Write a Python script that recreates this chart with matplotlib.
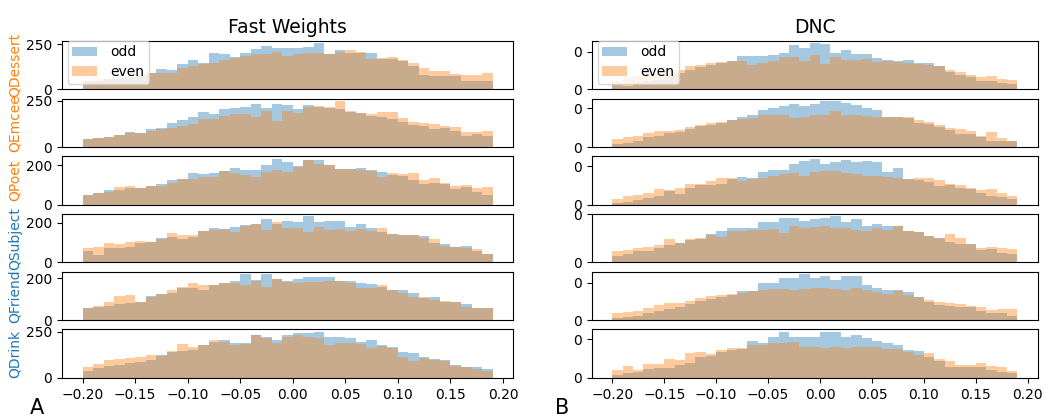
import numpy as np
import matplotlib
matplotlib.use('Agg')
import matplotlib.pyplot as plt

# histogram bins: 39 bins of width 0.01 from -0.20 to 0.19
bin_edges = np.round(np.arange(40) * 0.01 - 0.2, 2)

questions = ['QDessert', 'QEmcee', 'QPoet', 'QSubject', 'QFriend', 'QDrink']
question_colors = ['tab:orange', 'tab:orange', 'tab:orange', 'tab:blue', 'tab:blue', 'tab:blue']
fw_top_ticks = [250, 250, 200, 200, 200, 250]
dnc_top_ticks = [250, 250, 250, 250, 250, 250]

# Fast Weights, counts per bin
fw_dessert_odd = [45, 48, 55, 60, 62, 72, 88, 114, 106, 138, 160, 147, 200, 194, 179, 200, 222, 241, 231, 228,
                  231, 235, 256, 198, 216, 203, 200, 203, 166, 166, 157, 129, 78, 73, 73, 73, 45, 48, 45]
fw_dessert_even = [48, 55, 58, 62, 70, 80, 88, 88, 88, 119, 129, 138, 147, 160, 175, 185, 194, 194, 209, 185,
                   194, 203, 203, 194, 209, 216, 207, 166, 175, 179, 160, 147, 119, 104, 104, 86, 78, 78, 91]
fw_emcee_odd = [42, 51, 54, 63, 83, 74, 96, 101, 129, 145, 165, 192, 178, 205, 210, 217, 232, 214, 232, 226,
                205, 226, 217, 210, 205, 190, 187, 168, 160, 150, 138, 120, 114, 96, 105, 87, 60, 69, 60]
fw_emcee_even = [42, 51, 54, 63, 78, 74, 87, 96, 105, 114, 127, 150, 150, 168, 178, 181, 163, 196, 141, 196,
                 187, 217, 221, 217, 250, 196, 187, 178, 190, 190, 156, 138, 132, 127, 114, 109, 83, 81, 87]
fw_poet_odd = [50, 60, 75, 75, 85, 84, 97, 106, 126, 132, 159, 157, 161, 169, 186, 174, 178, 203, 234, 217,
               195, 229, 226, 200, 183, 183, 188, 174, 166, 149, 144, 123, 103, 109, 106, 80, 92, 63, 51]
fw_poet_even = [50, 60, 63, 89, 94, 84, 97, 97, 109, 132, 132, 140, 140, 169, 161, 149, 140, 166, 174, 166,
                191, 226, 205, 200, 183, 183, 174, 171, 140, 161, 157, 161, 126, 137, 111, 97, 101, 85, 89]
fw_subject_odd = [56, 38, 72, 72, 80, 97, 103, 125, 128, 120, 128, 159, 174, 171, 179, 188, 193, 219, 193, 209,
                  205, 234, 205, 209, 209, 179, 197, 176, 154, 142, 140, 137, 132, 97, 91, 77, 85, 56, 43]
fw_subject_even = [74, 80, 99, 94, 106, 111, 106, 120, 149, 140, 137, 159, 166, 171, 154, 183, 197, 166, 205, 176,
                   176, 154, 179, 162, 171, 159, 171, 157, 176, 145, 137, 137, 125, 118, 85, 77, 74, 68, 43]
fw_friend_odd = [59, 61, 67, 75, 83, 85, 117, 123, 131, 152, 152, 144, 168, 179, 189, 221, 192, 221, 195, 189,
                 197, 208, 208, 205, 187, 187, 176, 173, 160, 144, 144, 128, 104, 112, 88, 85, 77, 56, 59]
fw_friend_even = [59, 67, 88, 117, 120, 85, 112, 123, 144, 157, 176, 168, 168, 179, 176, 168, 189, 160, 195, 184,
                  176, 184, 184, 187, 187, 176, 152, 155, 168, 144, 131, 112, 109, 96, 91, 85, 64, 56, 59]
fw_drink_odd = [36, 54, 63, 71, 80, 86, 98, 121, 138, 143, 152, 179, 196, 205, 188, 191, 232, 223, 205, 232,
                245, 241, 250, 223, 223, 214, 196, 205, 175, 166, 138, 134, 112, 102, 95, 68, 59, 57, 50]
fw_drink_even = [57, 75, 95, 102, 107, 112, 125, 119, 143, 184, 166, 175, 202, 196, 179, 184, 232, 214, 188, 223,
                 232, 223, 214, 179, 191, 188, 184, 161, 170, 161, 113, 89, 107, 95, 89, 63, 59, 48, 36]

# DNC, counts per bin
dnc_dessert_odd = [26, 20, 42, 53, 64, 96, 107, 129, 147, 158, 173, 184, 217, 217, 221, 224, 239, 294, 272, 305,
                   298, 243, 261, 232, 232, 206, 195, 189, 195, 173, 173, 156, 114, 96, 79, 53, 53, 42, 35]
dnc_dessert_even = [53, 79, 86, 92, 101, 118, 129, 151, 162, 173, 180, 189, 184, 162, 173, 189, 211, 211, 189, 224,
                    169, 211, 195, 195, 202, 178, 184, 178, 173, 167, 162, 151, 125, 112, 92, 79, 86, 70, 64]
dnc_emcee_odd = [22, 29, 40, 62, 74, 89, 96, 118, 134, 141, 156, 174, 196, 208, 241, 252, 263, 275, 263, 275,
                 297, 297, 281, 268, 252, 241, 196, 192, 185, 156, 147, 129, 112, 85, 85, 62, 40, 40, 36]
dnc_emcee_even = [51, 62, 74, 92, 100, 100, 107, 129, 141, 156, 163, 174, 179, 185, 208, 208, 208, 185, 196, 208,
                  208, 230, 208, 208, 201, 196, 196, 192, 192, 174, 163, 141, 125, 118, 100, 74, 96, 58, 40]
dnc_poet_odd = [11, 18, 33, 44, 55, 88, 71, 111, 126, 128, 137, 166, 181, 173, 210, 226, 226, 261, 283, 299,
                261, 277, 288, 277, 283, 277, 210, 239, 166, 159, 144, 122, 126, 106, 100, 77, 55, 49, 40]
dnc_poet_even = [40, 55, 62, 73, 100, 93, 106, 133, 137, 155, 170, 173, 155, 166, 170, 188, 199, 206, 188, 210,
                 221, 221, 206, 199, 188, 188, 181, 173, 166, 173, 173, 159, 133, 126, 111, 93, 100, 77, 55]
dnc_subject_odd = [32, 44, 59, 59, 76, 90, 103, 115, 121, 147, 161, 179, 179, 179, 209, 209, 232, 232, 215, 227,
                   232, 239, 209, 223, 191, 200, 186, 186, 161, 156, 135, 126, 108, 94, 94, 62, 67, 50, 41]
dnc_subject_even = [59, 64, 73, 82, 90, 121, 98, 121, 126, 144, 129, 161, 165, 170, 170, 174, 151, 191, 179, 183,
                    191, 179, 179, 168, 165, 179, 168, 186, 165, 156, 138, 126, 147, 126, 94, 76, 80, 76, 71]
dnc_friend_odd = [11, 23, 27, 45, 64, 73, 91, 107, 130, 141, 159, 170, 193, 193, 250, 250, 284, 284, 311, 284,
                  300, 268, 295, 295, 239, 216, 205, 200, 186, 155, 125, 102, 95, 86, 86, 64, 45, 45, 27]
dnc_friend_even = [50, 57, 64, 84, 102, 118, 114, 130, 148, 164, 170, 175, 182, 193, 205, 209, 209, 205, 209, 216,
                   216, 209, 205, 216, 200, 186, 177, 193, 170, 159, 136, 120, 114, 109, 95, 91, 68, 73, 73]
dnc_drink_odd = [17, 28, 39, 54, 61, 61, 83, 93, 133, 141, 170, 180, 185, 241, 224, 267, 300, 267, 267, 267,
                 300, 300, 267, 278, 257, 241, 228, 213, 180, 176, 133, 111, 72, 72, 72, 72, 50, 39, 28]
dnc_drink_even = [50, 76, 50, 87, 87, 120, 115, 159, 170, 154, 180, 196, 191, 213, 213, 224, 228, 235, 198, 198,
                  191, 198, 191, 202, 202, 198, 185, 185, 170, 148, 159, 120, 111, 83, 83, 93, 76, 67, 46]

fw_odd = [fw_dessert_odd, fw_emcee_odd, fw_poet_odd, fw_subject_odd, fw_friend_odd, fw_drink_odd]
fw_even = [fw_dessert_even, fw_emcee_even, fw_poet_even, fw_subject_even, fw_friend_even, fw_drink_even]
dnc_odd = [dnc_dessert_odd, dnc_emcee_odd, dnc_poet_odd, dnc_subject_odd, dnc_friend_odd, dnc_drink_odd]
dnc_even = [dnc_dessert_even, dnc_emcee_even, dnc_poet_even, dnc_subject_even, dnc_friend_even, dnc_drink_even]

fig = plt.figure(figsize=(10.6, 4.17), dpi=100)
grid_kw = dict(top=0.902, bottom=0.094, hspace=0.19)
gs_left = fig.add_gridspec(6, 1, left=0.0585, right=0.484, **grid_kw)
gs_right = fig.add_gridspec(6, 1, left=0.5585, right=0.979, **grid_kw)

centers = bin_edges[:-1] + 0.005


def draw_panel(ax, odd, even, row):
    ax.hist(centers, bins=bin_edges, weights=odd, alpha=0.4, color='tab:blue', label='odd')
    ax.hist(centers, bins=bin_edges, weights=even, alpha=0.4, color='tab:orange', label='even')
    if row < 5:
        ax.tick_params(bottom=False, labelbottom=False)
    if row == 0:
        ax.legend(loc='upper left', bbox_to_anchor=(0.0, 1.12), borderaxespad=0.4,
                  handlelength=1.8, handletextpad=0.9, borderpad=0.35, labelspacing=0.4)


for row in range(6):
    ax = fig.add_subplot(gs_left[row])
    draw_panel(ax, fw_odd[row], fw_even[row], row)
    ax.set_yticks([0, fw_top_ticks[row]])
    ax.set_ylabel(questions[row], color=question_colors[row], labelpad=3)
    if row == 0:
        ax.set_title('Fast Weights', fontsize=13.5)

    ax = fig.add_subplot(gs_right[row])
    draw_panel(ax, dnc_odd[row], dnc_even[row], row)
    # the right-hand tick labels are cut off in the original, only the last digit shows
    ax.set_yticks([0, dnc_top_ticks[row]], ['0', '0'])
    if row == 0:
        ax.set_title('DNC', fontsize=13.5)

fig.text(0.028, 0.006, 'A', fontsize=15)
fig.text(0.524, 0.006, 'B', fontsize=15)

fig.savefig('out.png', dpi=100)
